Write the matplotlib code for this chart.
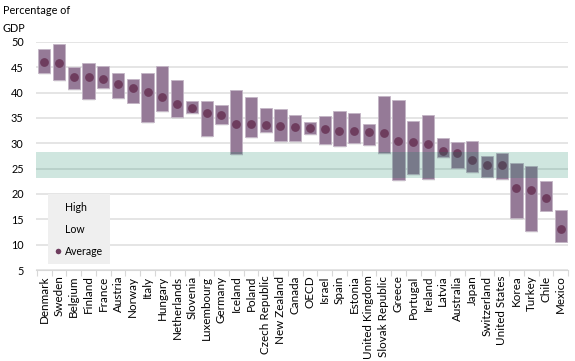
import numpy as np
import matplotlib
matplotlib.use("Agg")
from matplotlib import pyplot as plt
from matplotlib.lines import Line2D

plt.rcParams['font.family'] = ['Lato', 'DejaVu Sans']

countries = ["Denmark", "Sweden", "Belgium", "Finland", "France", "Austria", "Norway",
             "Italy", "Hungary", "Netherlands", "Slovenia", "Luxembourg", "Germany",
             "Iceland", "Poland", "Czech Republic", "New Zealand", "Canada", "OECD",
             "Israel", "Spain", "Estonia", "United Kingdom", "Slovak Republic", "Greece",
             "Portugal", "Ireland", "Latvia", "Australia", "Japan", "Switzerland",
             "United States", "Korea", "Turkey", "Chile", "Mexico"]

high = [48.6, 49.5, 45.1, 45.8, 45.3, 43.9, 42.7, 43.9, 45.3, 42.5, 38.3, 38.3, 37.5,
        40.5, 39.1, 36.9, 36.7, 35.6, 34.1, 35.3, 36.3, 35.9, 33.9, 39.4, 38.5,
        34.4, 35.6, 31.0, 30.2, 30.5, 27.5, 28.0, 26.1, 25.6, 22.5, 16.9]

low = [43.8, 42.5, 40.7, 38.7, 40.9, 38.9, 38.0, 34.1, 36.4, 35.1, 35.9, 31.4, 33.8,
       27.9, 31.2, 32.2, 30.5, 30.4, 31.8, 29.8, 29.4, 30.0, 29.6, 28.1, 22.7,
       23.9, 22.9, 27.3, 25.2, 24.3, 23.3, 22.9, 15.3, 12.6, 16.7, 10.6]

average = [46.0, 45.9, 43.1, 43.1, 42.7, 41.7, 40.9, 40.1, 39.2, 37.7, 36.9, 36.0, 35.5,
           33.8, 33.8, 33.6, 33.4, 33.3, 33.1, 32.8, 32.5, 32.4, 32.2, 32.0, 30.4,
           30.2, 29.8, 28.5, 28.1, 26.7, 25.8, 25.8, 21.1, 20.8, 19.2, 13.1]

band_low, band_high = 23.1, 28.2

bar_col = "#957a97"
dot_col = "#6e3d5e"

fig = plt.figure(figsize=(5.75, 3.61), dpi=100)
ax = fig.add_axes([0.063, 0.252, 0.925, 0.632])

x = np.arange(len(countries))
h = np.array(high)
l = np.array(low)

# faint shadow under bars
ax.bar(x + 0.05, h - l, bottom=l - 0.35, width=0.83, color="#000000", alpha=0.06,
       linewidth=0, zorder=1.5)
ax.bar(x, h - l, bottom=l, width=0.83, color=bar_col, edgecolor="#c4b6c6",
       linewidth=0.6, zorder=2)
ax.scatter(x, average, s=40, color=dot_col, zorder=2.5, linewidths=0)

ax.axhspan(band_low, band_high, color="#007c57", alpha=0.19, linewidth=0, zorder=3)

ax.set_ylim(5, 50)
ax.set_xlim(-0.55, 35.45)
ax.set_yticks(range(5, 51, 5))
ax.yaxis.grid(True, color="#e3e3e3", linewidth=1.3, zorder=0)
ax.set_axisbelow(True)

ax.set_xticks(x)
ax.set_xticklabels(countries, rotation=90, fontsize=8.4)
ax.set_xticks(np.arange(-0.5, 36, 1), minor=True)
ax.tick_params(axis='x', which='major', length=0, pad=4)
ax.tick_params(axis='x', which='minor', length=4, color="#d8d8d8", width=0.8)
ax.tick_params(axis='y', length=0, pad=9, labelsize=7.8)

for s in ["top", "right", "left"]:
    ax.spines[s].set_visible(False)
ax.spines["bottom"].set_color("#d8d8d8")
ax.spines["bottom"].set_linewidth(0.8)

fig.text(0.005, 0.985, "Percentage of\nGDP", ha="left", va="top", fontsize=7.8,
         linespacing=1.75)

handles = [Line2D([], [], linestyle="none", marker="s", markersize=0),
           Line2D([], [], linestyle="none", marker="s", markersize=0),
           Line2D([], [], linestyle="none", marker="o", markersize=4,
                  markerfacecolor=dot_col, markeredgewidth=0)]
leg = ax.legend(handles, ["High", "Low", "Average"], loc="lower left",
                bbox_to_anchor=(0.022, 0.025), frameon=True, fontsize=7.6,
                handlelength=0.6, handletextpad=0.3, labelspacing=1.05,
                borderpad=0.7, borderaxespad=0)
leg.get_frame().set_facecolor("#efefef")
leg.get_frame().set_edgecolor("none")
leg.get_frame().set_boxstyle("square", pad=0)
leg.get_frame().set_alpha(1)
leg.set_zorder(5)

fig.savefig("out.png", dpi=100)
